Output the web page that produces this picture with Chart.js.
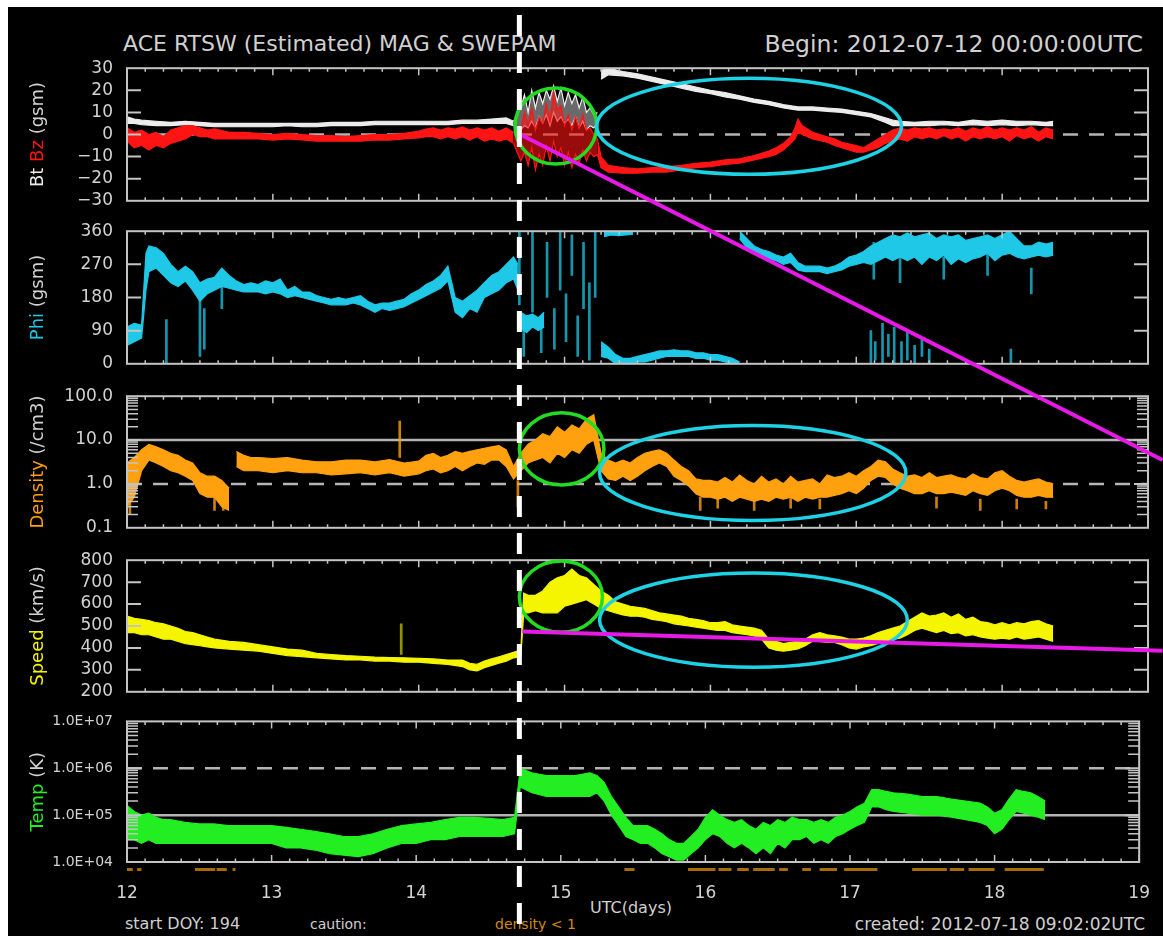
<!DOCTYPE html>
<html>
<head>
<meta charset="utf-8">
<title>ACE RTSW (Estimated) MAG &amp; SWEPAM</title>
<script src="https://cdn.jsdelivr.net/npm/chart.js@4.4.1/dist/chart.umd.min.js"></script>
<style>
  html, body { margin: 0; padding: 0; background: #ffffff; }
  #sheet { position: absolute; left: 8px; top: 7px; width: 1155px; height: 929px; background: #000000; }
  canvas { position: absolute; left: 0; }
  .txt { position: absolute; font-family: "DejaVu Sans", sans-serif; color: #d0d0d0; white-space: nowrap; line-height: 1; }
</style>
</head>
<body>
<div id="sheet"></div>
<div class="txt" style="left:123px; top:33px; font-size:22px;">ACE RTSW (Estimated) MAG &amp; SWEPAM</div>
<div class="txt" style="right:20px; top:33px; font-size:23.5px;">Begin: 2012-07-12 00:00:00UTC</div>
<div class="txt" style="left:590px; top:900px; font-size:16px;">UTC(days)</div>
<div class="txt" style="left:125px; top:916px; font-size:16px;">start DOY: 194</div>
<div class="txt" style="left:310px; top:917px; font-size:14px;">caution:</div>
<div class="txt" style="left:495px; top:917px; font-size:14px; color:#d08a10;">density &lt; 1</div>
<div class="txt" style="right:18px; top:916px; font-size:17px;">created: 2012-07-18 09:02:02UTC</div>

<script>
// ---------------------------------------------------------------
// ACE real-time solar wind, 7-day view starting 2012-07-12 (DOY 194).
// Each row: [day of July (UTC), low, high] of the plotted scatter band.
// ---------------------------------------------------------------

// |B| total field (nT): quiet wind, shock sheath, magnetic cloud
const btQuiet = [
  [12.00,5,8],[12.05,5,7],[12.10,4.5,6.5],[12.20,4,6],[12.30,4,5.5],[12.40,4.5,6],[12.50,4,5.5],
  [12.60,3.5,5],[12.70,3.5,5],[12.80,3.5,5],[12.90,3.5,5],[13.00,3.5,5],[13.10,4,5],[13.20,3.5,5],
  [13.30,3.5,5],[13.40,4,5.5],[13.50,4,5.5],[13.60,4,5.5],[13.70,4.5,6],[13.80,4.5,6],[13.90,4.5,6],
  [14.00,4.5,6],[14.10,4.5,6],[14.20,4.5,6],[14.30,5,6.5],[14.40,5,6.5],[14.50,5,7],[14.60,5,7.5],
  [14.65,4,6]
];
const btSheath = [
  [14.65,4,6],[14.70,2,12],[14.725,4,18],[14.75,3,10],[14.775,6,20],[14.80,3,12],[14.825,8,19],
  [14.85,5,14],[14.875,9,20],[14.90,4,16],[14.925,10,22],[14.95,6,15],[14.975,8,21],[15.00,5,13],
  [15.025,7,19],[15.05,4,14],[15.075,8,18],[15.10,3,12],[15.125,6,17],[15.15,2,10],[15.175,4,12],
  [15.20,3,9],[15.225,5,10]
];
const btCloud = [
  [15.25,25,29],[15.30,27,30],[15.40,26.5,28.5],[15.50,25.5,27.5],
  [15.60,24,26],[15.70,22.5,24.5],[15.80,21,23],[15.90,19.5,21.5],[16.00,18.5,20],[16.10,17,19],
  [16.20,16,17.5],[16.30,14.5,16],[16.40,13.5,15],[16.50,12,13.5],[16.60,11,12.5],[16.70,11,12.5],
  [16.80,10.5,12],[16.90,10,11.5],[17.00,9,10.5],[17.10,8,9.5],[17.20,5.5,7.5],[17.25,4,6.5],
  [17.30,4,6],[17.40,4,5.5],[17.50,4,6],[17.60,4.5,6],[17.70,4,5.5],[17.80,4.5,6.5],[17.90,4,6],
  [18.00,4.5,6.5],[18.10,4,6],[18.20,4.5,6],[18.30,4,5.5],[18.35,4,6]
];

// Bz GSM (nT)
const bzQuiet = [
  [12.00,-3,3],[12.05,-6,1],[12.10,-5,2],[12.15,-7,0],[12.20,-5,1],[12.25,-6,-1],[12.30,-4,2],
  [12.35,-3,3],[12.40,-2,4],[12.45,0,4],[12.50,-1,3],[12.55,-1,2],[12.60,-2,2.5],[12.70,-2,1],
  [12.80,-2,1],[12.90,-2,0.5],[13.00,-2.5,0],[13.10,-2,0.5],[13.20,-2.5,0],[13.30,-3,-0.5],
  [13.40,-3,-0.5],[13.50,-3,-1],[13.60,-3,-0.5],[13.70,-2.5,0],[13.80,-2.5,0],[13.90,-2,0.5],
  [14.00,-1.5,1.5],[14.05,-1,2.5],[14.10,-1,3],[14.15,-2,2],[14.20,-1,3],[14.25,-2,2.5],
  [14.30,-1,3.5],[14.35,-2.5,2],[14.40,-1,3],[14.45,-3,2],[14.50,-2,3],[14.55,-3,1.5],[14.60,-2,3],
  [14.65,-4,1]
];
const bzSheath = [
  [14.65,-4,1],[14.70,-12,2],[14.725,-8,10],[14.75,-14,4],[14.775,-6,12],[14.80,-16,2],
  [14.825,-9,8],[14.85,-14,5],[14.875,-5,14],[14.90,-12,6],[14.925,-3,19],[14.95,-10,11],
  [14.975,-6,13],[15.00,-14,4],[15.025,-8,9],[15.05,-15,2],[15.075,-9,8],[15.10,-13,3],
  [15.125,-7,9],[15.15,-12,2],[15.175,-8,3],[15.20,-10,0],[15.225,-9,-2]
];
const bzCloud = [
  [15.225,-9,-2],[15.25,-15,-10],
  [15.30,-17,-14],[15.40,-17.5,-15],[15.50,-17.5,-15.5],[15.60,-17,-15],[15.70,-17,-14.5],
  [15.80,-16,-14],[15.90,-15,-13],[16.00,-14.5,-12.5],[16.10,-13.5,-11.5],[16.20,-13,-11],
  [16.30,-11.5,-9.5],[16.40,-10,-7.5],[16.45,-9,-6],[16.50,-7,-4],[16.55,-4,-1],[16.58,-2,3],
  [16.60,1,7],[16.63,0,4],[16.70,-2,1],[16.80,-3.5,-1],[16.85,-5,-2],[16.90,-6,-3.5],
  [17.00,-8,-5],[17.05,-8,-6],[17.10,-7,-4],[17.15,-6,-2],[17.20,-4,0],[17.25,-3,2],[17.30,-2,3],
  [17.35,-3,2],[17.40,-1,3],[17.45,-2,2.5],[17.50,-1,3],[17.55,-2,2],[17.60,-0.5,2.5],[17.65,-2,2],
  [17.70,-1,3],[17.75,-3,1.5],[17.80,-1,3],[17.85,-2,2],[17.90,-1,3.5],[17.95,-2,2],[18.00,-1,3],
  [18.05,-3,2],[18.10,-0.5,3],[18.15,-2,2],[18.20,-1,3.5],[18.25,-3,1],[18.30,-1,3],[18.35,-2,2]
];

// Phi GSM (degrees), split where the angle wraps through 0/360
const phiMain = [
  [12.00,50,100],[12.05,60,110],[12.10,70,105],[12.13,200,300],[12.15,250,320],[12.20,260,315],
  [12.25,240,300],[12.30,220,270],[12.35,210,250],[12.40,225,265],[12.45,200,250],[12.50,170,220],
  [12.55,190,230],[12.60,200,235],[12.65,210,260],[12.70,205,240],[12.75,200,225],[12.80,195,215],
  [12.85,195,220],[12.90,195,215],[12.95,190,225],[13.00,195,220],[13.05,190,230],[13.10,180,200],
  [13.15,185,210],[13.20,180,195],[13.25,175,195],[13.30,170,185],[13.35,165,180],[13.40,160,175],
  [13.45,160,180],[13.50,160,175],[13.55,165,180],[13.60,160,185],[13.65,150,170],[13.70,140,160],
  [13.75,150,165],[13.80,145,165],[13.85,150,170],[13.90,155,175],[13.95,165,190],[14.00,175,200],
  [14.05,185,215],[14.10,195,225],[14.15,205,240],[14.20,225,265],[14.25,140,180],[14.30,125,170],
  [14.35,150,185],[14.40,140,200],[14.45,180,220],[14.50,190,240],[14.55,200,250],[14.60,220,270],
  [14.65,230,290],[14.68,200,270]
];
const phiCluster = [[14.70,95,140],[14.74,85,130],[14.78,100,135],[14.82,90,125],[14.86,100,140]];
const phiLow = [
  [15.25,20,60],[15.30,15,45],[15.35,0,25],[15.40,0,15],[15.45,0,15],[15.50,5,20],[15.55,5,25],
  [15.60,10,30],[15.65,15,35],[15.70,20,35],[15.75,20,38],[15.80,20,35],[15.85,20,35],[15.90,15,30],
  [15.95,15,30],[16.00,10,25],[16.05,10,25],[16.10,5,20],[16.15,0,15],[16.20,0,5]
];
const phiTop = [[15.27,345,360],[15.32,350,360],[15.37,348,360],[15.42,350,360],[15.47,352,360]];
const phiHigh = [
  [16.20,340,360],[16.25,315,340],[16.30,300,320],[16.35,290,310],[16.40,285,305],[16.45,280,295],
  [16.50,270,290],[16.55,275,300],[16.60,255,275],[16.65,250,265],[16.70,250,265],[16.75,250,265],
  [16.80,245,260],[16.85,250,265],[16.90,255,275],[16.95,265,290],[17.00,270,295],[17.05,275,305],
  [17.10,270,320],[17.15,280,330],[17.20,290,340],[17.25,280,350],[17.30,290,345],[17.35,280,355],
  [17.40,290,345],[17.45,270,350],[17.50,290,355],[17.55,280,340],[17.60,295,350],[17.65,270,345],
  [17.70,285,350],[17.75,275,335],[17.80,285,340],[17.85,290,345],[17.90,300,350],[17.95,280,340],
  [18.00,295,350],[18.05,300,360],[18.10,290,340],[18.15,285,320],[18.20,290,320],[18.25,295,330],
  [18.30,290,325],[18.35,295,330]
];
// scattered phi readings (vertical streaks)
const phiStreaks = [
  [12.27,0,120],[12.50,20,180],[12.53,40,150],[12.65,150,230],[14.69,160,360],[14.72,20,110],
  [14.78,140,360],[14.84,30,100],[14.88,180,330],[14.93,40,150],[14.97,200,360],[15.01,60,190],
  [15.05,240,350],[15.09,20,130],[15.13,150,330],[15.17,10,220],[15.21,180,360],[17.10,0,90],
  [17.13,10,60],[17.18,0,110],[17.22,20,80],[17.26,0,100],[17.31,0,60],[17.35,10,90],[17.40,0,50],
  [17.45,20,70],[17.50,0,40],[18.06,0,40],[17.12,230,330],[17.30,220,300],[17.60,230,290],
  [17.90,240,300],[18.20,190,260]
];

// Proton density (/cm3)
const densEarly = [
  [12.00,0.3,3],[12.05,0.5,4],[12.10,2,6],[12.15,3.5,8],[12.20,3,7],[12.25,2.5,6],[12.30,2,5],
  [12.35,1.8,4.5],[12.40,1.5,3.5],[12.45,1.2,3],[12.50,0.6,1.8],[12.55,0.5,1.5],[12.60,0.5,1.5],
  [12.65,0.3,1.2],[12.70,0.25,0.8]
];
const densRows = [
  [12.75,2.5,5.5],[12.80,2,4.5],[12.85,2,4],[12.90,2,4],[13.00,1.8,3.8],[13.10,2,4],[13.20,1.8,3.5],
  [13.30,1.8,3.2],[13.40,1.6,3.2],[13.50,1.7,3.5],[13.60,1.8,3.5],[13.70,1.6,3.2],[13.80,1.8,3.6],
  [13.90,1.5,3],[14.00,1.7,3.3],[14.05,2,4.5],[14.10,2.2,5],[14.15,1.8,4],[14.20,2,4.5],[14.25,2.5,5.5],
  [14.30,2,5],[14.35,2.5,5.5],[14.40,3,6],[14.45,2.8,6.5],[14.50,3.5,7],[14.55,3.5,7.5],[14.60,2.5,6],
  [14.65,1.3,2.5],[14.70,2,5],[14.75,3,8],[14.80,3.5,10],[14.85,4,14],[14.90,3,12],[14.95,5,20],
  [15.00,4,15],[15.05,6,22],[15.10,5,18],[15.15,8,30],[15.20,10,38],[15.25,2,5],[15.30,1.3,3.5],
  [15.35,1.2,3],[15.40,1.5,3.5],[15.45,1.2,3],[15.50,1.5,4],[15.55,2,5],[15.60,2.5,5.5],[15.65,3,6],
  [15.70,2.5,5],[15.75,1.5,3.5],[15.80,1.2,2.5],[15.85,0.9,2],[15.90,0.6,1.3],[15.95,0.5,1.2],
  [16.00,0.5,1.2],[16.05,0.45,1.1],[16.10,0.5,1.4],[16.15,0.4,1.1],[16.20,0.5,1.6],[16.25,0.45,1.2],
  [16.30,0.4,1.0],[16.35,0.45,1.5],[16.40,0.4,1.1],[16.45,0.5,1.3],[16.50,0.45,1.0],[16.55,0.5,1.5],
  [16.60,0.4,1.1],[16.65,0.5,1.2],[16.70,0.45,1.3],[16.75,0.5,1.0],[16.80,0.5,1.6],[16.85,0.55,1.4],
  [16.90,0.6,1.5],[16.95,0.7,1.8],[17.00,0.6,1.5],[17.05,0.8,2],[17.10,1.2,2.5],[17.15,1.5,3.5],
  [17.20,1.4,3.2],[17.25,1,2.2],[17.30,0.8,1.8],[17.35,0.7,1.5],[17.40,0.6,1.6],[17.45,0.6,1.4],
  [17.50,0.7,1.8],[17.55,0.6,1.4],[17.60,0.6,1.5],[17.65,0.65,1.6],[17.70,0.6,1.4],[17.75,0.55,1.3],
  [17.80,0.7,1.7],[17.85,0.6,1.4],[17.90,0.55,1.3],[17.95,0.7,1.8],[18.00,0.8,2],[18.05,0.7,1.5],
  [18.10,0.55,1.2],[18.15,0.5,1.1],[18.20,0.5,1.2],[18.25,0.55,1.3],[18.30,0.5,1.1],[18.35,0.5,1.0]
];
const densStreaks = [
  [12.02,0.2,2],[12.60,0.25,0.6],[12.66,0.25,0.5],[13.87,4,27],[14.68,0.3,1.2],[15.93,0.25,0.5],
  [16.05,0.28,0.45],[16.30,0.25,0.45],[16.55,0.28,0.5],[16.75,0.27,0.45],[17.55,0.28,0.5],
  [17.85,0.25,0.45],[18.10,0.27,0.45],[18.30,0.27,0.4]
];

// Bulk speed (km/s)
const speedRows = [
  [12.00,470,545],[12.05,470,535],[12.10,460,530],[12.15,460,525],[12.20,450,515],[12.25,440,510],
  [12.30,440,500],[12.35,430,490],[12.40,420,475],[12.45,415,470],[12.50,410,460],[12.55,405,450],
  [12.60,400,440],[12.70,395,430],[12.80,390,425],[12.90,385,415],[13.00,375,405],[13.10,365,395],
  [13.20,360,390],[13.30,355,375],[13.40,350,370],[13.50,345,365],[13.60,345,362],[13.70,340,358],
  [13.80,340,356],[13.90,335,355],[14.00,335,352],[14.10,330,350],[14.20,325,345],[14.30,315,345],
  [14.35,300,330],[14.40,295,325],[14.45,310,340],[14.50,320,350],[14.55,330,360],[14.60,340,370],
  [14.65,355,380],[14.70,360,390],[14.72,560,650],[14.75,560,640],[14.80,570,640],[14.85,560,660],
  [14.90,560,700],[14.95,560,720],[15.00,590,730],[15.05,600,760],[15.10,610,730],[15.15,620,720],
  [15.20,600,690],[15.25,580,660],[15.30,570,640],[15.35,560,610],[15.40,550,600],[15.45,545,590],
  [15.50,545,585],[15.55,540,580],[15.60,530,570],[15.65,525,560],[15.70,520,555],[15.75,510,550],
  [15.80,505,545],[15.85,500,535],[15.90,495,530],[15.95,490,525],[16.00,485,515],[16.05,480,515],
  [16.10,480,520],[16.15,470,505],[16.20,465,500],[16.25,460,495],[16.30,455,490],[16.35,440,480],
  [16.40,400,440],[16.45,390,430],[16.50,385,420],[16.55,390,425],[16.60,395,430],[16.65,410,440],
  [16.70,430,460],[16.75,430,470],[16.80,425,460],[16.85,425,455],[16.90,415,450],[16.95,400,440],
  [17.00,395,440],[17.05,405,445],[17.10,410,455],[17.15,420,470],[17.20,430,480],[17.25,440,490],
  [17.30,445,500],[17.35,460,520],[17.40,480,540],[17.45,490,560],[17.50,480,545],[17.55,470,550],
  [17.60,480,560],[17.65,465,540],[17.70,470,555],[17.75,455,530],[17.80,460,540],[17.85,450,520],
  [17.90,445,515],[17.95,440,505],[18.00,445,515],[18.05,440,505],[18.10,450,515],[18.15,440,510],
  [18.20,445,520],[18.25,450,525],[18.30,440,510],[18.35,430,500]
];
const speedStreaks = [[13.88,370,510]];

// Ion temperature (K)
const tempRows = [
  [12.00,3e4,1.6e5],[12.05,3e4,1.2e5],[12.10,2.5e4,1e5],[12.15,3e4,1.1e5],[12.20,2.5e4,9e4],
  [12.25,2.5e4,8e4],[12.30,2.5e4,8e4],[12.40,2.5e4,7e4],[12.50,2.5e4,6.5e4],[12.60,2.5e4,6.5e4],
  [12.70,2.5e4,6e4],[12.80,2.5e4,6e4],[12.90,2.5e4,6e4],[13.00,2.5e4,6e4],[13.10,2e4,5.5e4],
  [13.20,2e4,5e4],[13.30,1.8e4,4.5e4],[13.40,1.5e4,4e4],[13.50,1.4e4,3.5e4],[13.60,1.3e4,3.5e4],
  [13.70,1.5e4,4e4],[13.80,2e4,5e4],[13.90,2.5e4,6e4],[14.00,2.5e4,6.5e4],[14.10,3e4,7e4],
  [14.20,3e4,8e4],[14.30,3.5e4,9e4],[14.40,3.5e4,9e4],[14.50,3.5e4,8.5e4],[14.60,3.5e4,8e4],
  [14.68,4e4,9e4],[14.72,4e5,1e6],[14.80,3e5,8e5],[14.90,2.5e5,7e5],[15.00,2.5e5,7e5],
  [15.10,2.5e5,7e5],[15.20,2.5e5,8e5],[15.25,3e5,7e5],[15.30,2e5,5e5],[15.35,1e5,2.5e5],
  [15.40,6e4,1.5e5],[15.45,3.5e4,9e4],[15.50,3e4,6e4],[15.55,2.5e4,6e4],[15.60,2.5e4,6e4],
  [15.65,2e4,5e4],[15.70,1.5e4,4e4],[15.75,1.3e4,3e4],[15.80,1.1e4,2.5e4],[15.85,1.1e4,2.5e4],
  [15.90,1.5e4,3.5e4],[15.95,2e4,5e4],[16.00,3e4,9e4],[16.05,4e4,1.3e5],[16.10,3.5e4,1e5],
  [16.15,2.5e4,8e4],[16.20,2e4,7e4],[16.25,2.5e4,8e4],[16.30,2e4,6e4],[16.35,1.5e4,5e4],
  [16.40,2e4,7e4],[16.45,1.5e4,6e4],[16.50,2.5e4,8e4],[16.55,2e4,7e4],[16.60,3e4,9e4],
  [16.65,3e4,8e4],[16.70,3.5e4,8e4],[16.75,2.5e4,7e4],[16.80,3e4,8e4],[16.85,2.5e4,7e4],
  [16.90,3.5e4,9e4],[16.95,4e4,1e5],[17.00,5e4,1.2e5],[17.05,6e4,1.5e5],[17.10,7e4,1.8e5],
  [17.15,1.5e5,3.5e5],[17.20,1.5e5,3.5e5],[17.25,1.3e5,3.2e5],[17.30,1.2e5,3e5],[17.40,1.1e5,2.8e5],
  [17.50,1e5,2.5e5],[17.60,1e5,2.5e5],[17.70,9e4,2.2e5],[17.80,8e4,2e5],[17.90,7e4,1.8e5],
  [17.95,6e4,1.5e5],[18.00,4e4,1.1e5],[18.05,5e4,1.3e5],[18.10,8e4,2.2e5],[18.15,1.2e5,3.5e5],
  [18.20,1.1e5,3.2e5],[18.25,1e5,3e5],[18.30,9e4,2.5e5],[18.35,8e4,2e5]
];

// intervals flagged "density < 1"
const lowDensity = [
  [12.00,12.04],[12.07,12.10],[12.47,12.61],[12.62,12.69],[12.73,12.75],[15.44,15.51],
  [15.88,16.07],[16.09,16.18],[16.22,16.30],[16.33,16.48],[16.51,16.57],[16.67,16.73],
  [16.79,16.91],[16.96,17.19],[17.43,17.67],[17.69,17.79],[17.82,18.00],[18.07,18.34]
];

// x-axis tick labels (days) and y tick values per panel
const dayTicks = [12, 13, 14, 15, 16, 17, 18, 19];
const bzTicks = [-30, -20, -10, 0, 10, 20, 30];
const phiTicks = [0, 90, 180, 270, 360];
const speedTicks = [200, 300, 400, 500, 600, 700, 800];

// ---------------------------------------------------------------
// Layout and styling
// ---------------------------------------------------------------
const PAGE_W = 1163, PAGE_H = 936;
const AXIS_W = 127;          // left edge of each plotting frame
const RIGHT_PAD = 15;        // page width minus right frame edge
const PAD = 10;
const XAXIS_H = 40;
const FONT = '"DejaVu Sans", sans-serif';
const GRAY = '#d2d2d2';
const FRAME = '#c4c4c4';
const REF = '#b4b4b4';
const C_BT = '#ececec', C_BZ = '#ff1414', C_PHI = '#1ec8e6', C_DEN = '#ffa00f',
      C_SPD = '#f5f500', C_TMP = '#22ee22';

const panels = [
  { top: 62,  bottom: 207 },
  { top: 225, bottom: 370 },
  { top: 390, bottom: 534 },
  { top: 554, bottom: 698 },
  { top: 717, bottom: 862 }
];

function band(rows, color, fillColor) {
  return [
    { type: 'line', data: rows.map(r => ({ x: r[0], y: r[1] })), borderColor: color, borderWidth: 1.2,
      pointRadius: 0, fill: false, tension: 0 },
    { type: 'line', data: rows.map(r => ({ x: r[0], y: r[2] })), borderColor: color, borderWidth: 1.2,
      pointRadius: 0, fill: '-1', backgroundColor: fillColor || color, tension: 0 }
  ];
}
function streaks(rows, color) {
  return { type: 'bar', data: rows.map(r => ({ x: r[0], y: [r[1], r[2]] })), backgroundColor: color,
           barThickness: 2, grouped: false };
}
function logMinor(lo, hi) {
  const out = [];
  for (let e = Math.round(Math.log10(lo)); e < Math.round(Math.log10(hi)); e++) {
    for (let m = 2; m <= 9; m++) out.push(m * Math.pow(10, e));
  }
  return out;
}
const signed = v => (v < 0 ? '\u2212' + Math.abs(v) : String(v));
const isDecade = v => Math.abs(Math.log10(v) - Math.round(Math.log10(v))) < 1e-6;

const panelFrame = {
  id: 'panelFrame',
  beforeDatasetsDraw(chart, args, o) {
    const { ctx, chartArea: a } = chart;
    const ys = chart.scales.y;
    ctx.save();
    (o.refs || []).forEach(r => {
      const y = ys.getPixelForValue(r.v);
      ctx.strokeStyle = REF; ctx.lineWidth = 2.5;
      ctx.setLineDash(r.dash ? [15, 11] : []);
      ctx.beginPath(); ctx.moveTo(a.left, y); ctx.lineTo(a.right, y); ctx.stroke();
    });
    ctx.restore();
  },
  afterDatasetsDraw(chart, args, o) {
    const { ctx, chartArea: a } = chart;
    const xs = chart.scales.x, ys = chart.scales.y;
    ctx.save();
    ctx.setLineDash([]);
    ctx.strokeStyle = FRAME; ctx.lineWidth = 2;
    ctx.strokeRect(a.left, a.top, a.right - a.left, a.bottom - a.top);
    // 3-hourly minor and daily major ticks along top and bottom edges
    ctx.lineWidth = 1.5;
    for (let k = 0; k <= 56; k++) {
      const px = xs.getPixelForValue(12 + k / 8);
      const len = k % 8 === 0 ? 7 : 3.5;
      ctx.beginPath();
      ctx.moveTo(px, a.top); ctx.lineTo(px, a.top + len);
      ctx.moveTo(px, a.bottom); ctx.lineTo(px, a.bottom - len);
      ctx.stroke();
    }
    // inward y ticks on both sides
    const yTick = (v, len) => {
      const py = ys.getPixelForValue(v);
      ctx.beginPath();
      ctx.moveTo(a.left, py); ctx.lineTo(a.left + len, py);
      ctx.moveTo(a.right, py); ctx.lineTo(a.right - len, py);
      ctx.stroke();
    };
    ctx.lineWidth = 2;
    (o.major || []).forEach(v => yTick(v, 14));
    ctx.lineWidth = 1.5;
    (o.minor || []).forEach(v => yTick(v, 11));
    // low-density flags under the frame
    if (o.flags) {
      ctx.fillStyle = '#a86c08';
      o.flags.forEach(f => {
        const x0 = xs.getPixelForValue(f[0]), x1 = xs.getPixelForValue(f[1]);
        ctx.fillRect(x0, a.bottom + 6, Math.max(2, x1 - x0), 3);
      });
    }
    // rotated, multi-coloured axis title
    if (o.title) {
      ctx.font = '18px ' + FONT;
      ctx.textBaseline = 'middle';
      const total = o.title.reduce((s, p) => s + ctx.measureText(p[0]).width, 0);
      ctx.translate(38, (a.top + a.bottom) / 2);
      ctx.rotate(-Math.PI / 2);
      let x = -total / 2;
      o.title.forEach(p => {
        ctx.fillStyle = p[1];
        ctx.fillText(p[0], x, 0);
        x += ctx.measureText(p[0]).width;
      });
    }
    ctx.restore();
  }
};

const panelDefs = [
  {
    y: { type: 'linear', min: -30, max: 30, ticks: { stepSize: 10, callback: signed } },
    datasets: [...band(bzQuiet, C_BZ), ...band(bzSheath, C_BZ, 'rgba(255,20,20,0.6)'), ...band(bzCloud, C_BZ),
               ...band(btQuiet, C_BT), ...band(btSheath, C_BT, 'rgba(236,236,236,0.45)'), ...band(btCloud, C_BT)],
    deco: { refs: [{ v: 0, dash: true }], major: bzTicks.slice(1, -1),
            title: [['Bt', C_BT], [' Bz', C_BZ], [' (gsm)', GRAY]] }
  },
  {
    y: { type: 'linear', min: 0, max: 360, ticks: { stepSize: 90 } },
    datasets: [...band(phiMain, C_PHI), ...band(phiCluster, C_PHI), ...band(phiLow, C_PHI),
               ...band(phiTop, C_PHI), ...band(phiHigh, C_PHI), streaks(phiStreaks, 'rgba(30,200,230,0.75)')],
    deco: { major: phiTicks.slice(1, -1), title: [['Phi', C_PHI], [' (gsm)', GRAY]] }
  },
  {
    y: { type: 'logarithmic', min: 0.1, max: 100,
         ticks: { autoSkip: false, callback: v => (isDecade(v) ? Number(v).toFixed(1) : '') } },
    datasets: [...band(densEarly, C_DEN), ...band(densRows, C_DEN), streaks(densStreaks, 'rgba(255,160,15,0.8)')],
    deco: { refs: [{ v: 10, dash: false }, { v: 1, dash: true }], major: [1, 10],
            minor: logMinor(0.1, 100), title: [['Density', C_DEN], [' (/cm3)', GRAY]] }
  },
  {
    y: { type: 'linear', min: 200, max: 800, ticks: { stepSize: 100 } },
    datasets: [...band(speedRows, C_SPD), streaks(speedStreaks, 'rgba(245,245,0,0.6)')],
    deco: { major: speedTicks.slice(1, -1), title: [['Speed', C_SPD], [' (km/s)', GRAY]] }
  },
  {
    y: { type: 'logarithmic', min: 1e4, max: 1e7,
         ticks: { autoSkip: false, font: { size: 14, family: FONT },
                  callback: v => (isDecade(v) ? '1.0E+' + String(Math.round(Math.log10(v))).padStart(2, '0') : '') } },
    datasets: [...band(tempRows, C_TMP)],
    deco: { refs: [{ v: 1e6, dash: true }, { v: 1e5, dash: false }], major: [1e5, 1e6],
            minor: logMinor(1e4, 1e7), title: [['Temp', C_TMP], [' (K)', GRAY]], flags: lowDensity }
  }
];

const charts = [], canvasTops = [];
panelDefs.forEach((def, i) => {
  const p = panels[i];
  const last = i === panelDefs.length - 1;
  const top = p.top - PAD;
  const height = (p.bottom - p.top) + PAD + (last ? XAXIS_H : PAD);
  const cv = document.createElement('canvas');
  cv.width = PAGE_W; cv.height = height;
  cv.style.top = top + 'px'; cv.style.width = PAGE_W + 'px'; cv.style.height = height + 'px';
  document.body.appendChild(cv);
  canvasTops.push(top);

  const xAxis = {
    type: 'linear', min: dayTicks[0], max: dayTicks[dayTicks.length - 1],
    offset: false, display: last,
    grid: { display: false, offset: false }, border: { display: false },
    afterBuildTicks: s => { s.ticks = dayTicks.map(v => ({ value: v })); },
    ticks: { color: GRAY, padding: 13, maxRotation: 0, autoSkip: false,
             font: { size: 17, family: FONT }, callback: v => String(v) }
  };
  if (last) xAxis.afterFit = s => { s.height = XAXIS_H; };

  const yTicks = Object.assign({ color: GRAY, padding: 6, font: { size: 17, family: FONT } }, def.y.ticks);
  const chart = new Chart(cv.getContext('2d'), {
    type: 'line',
    data: { datasets: def.datasets },
    plugins: [panelFrame],
    options: {
      responsive: false, animation: false, devicePixelRatio: 1, events: [],
      layout: { padding: { left: 0, right: RIGHT_PAD, top: PAD, bottom: last ? 0 : PAD } },
      plugins: { legend: { display: false }, tooltip: { enabled: false }, panelFrame: def.deco },
      scales: {
        x: xAxis,
        y: {
          type: def.y.type, min: def.y.min, max: def.y.max,
          grid: { display: false }, border: { display: false },
          afterFit: s => { s.width = AXIS_W; },
          ticks: yTicks
        }
      }
    }
  });
  charts.push(chart);
});

// ---------------------------------------------------------------
// Event annotations: shock arrival marker, sheath / ejecta rings, trend lines
// ---------------------------------------------------------------
const shockDay = 14.69;
const sheathRings = [
  { panel: 0, d0: 14.66, d1: 15.22, v0: 21,   v1: -13.4 },
  { panel: 2, d0: 14.69, d1: 15.27, v0: 42,   v1: 0.95 },
  { panel: 3, d0: 14.69, d1: 15.26, v0: 796,  v1: 471 }
];
const ejectaRings = [
  { panel: 0, d0: 15.22, d1: 17.31, v0: 25.4, v1: -18 },
  { panel: 2, d0: 15.24, d1: 17.34, v0: 21.5, v1: 0.147 },
  { panel: 3, d0: 15.24, d1: 17.35, v0: 742,  v1: 312 }
];
const trendLines = [
  { from: { panel: 0, day: 14.69, v: 0.2 }, to: { panel: 2, day: 19.10, v: 3.5 } },
  { from: { panel: 3, day: 14.71, v: 475 }, to: { panel: 3, day: 19.10, v: 387 } }
];

const ov = document.createElement('canvas');
ov.width = PAGE_W; ov.height = PAGE_H;
ov.style.top = '0px'; ov.style.width = PAGE_W + 'px'; ov.style.height = PAGE_H + 'px';
ov.style.zIndex = 5; ov.style.pointerEvents = 'none';
document.body.appendChild(ov);
const octx = ov.getContext('2d');

function pagePoint(i, day, v) {
  const c = charts[i];
  return { x: c.scales.x.getPixelForValue(day), y: canvasTops[i] + c.scales.y.getPixelForValue(v) };
}
function ring(r, color) {
  const p0 = pagePoint(r.panel, r.d0, r.v0), p1 = pagePoint(r.panel, r.d1, r.v1);
  octx.strokeStyle = color; octx.lineWidth = 3.5;
  octx.beginPath();
  octx.ellipse((p0.x + p1.x) / 2, (p0.y + p1.y) / 2, Math.abs(p1.x - p0.x) / 2, Math.abs(p1.y - p0.y) / 2, 0, 0, Math.PI * 2);
  octx.stroke();
}
sheathRings.forEach(r => ring(r, '#22dc22'));
ejectaRings.forEach(r => ring(r, '#1ed2e6'));
trendLines.forEach(t => {
  const a = pagePoint(t.from.panel, t.from.day, t.from.v), b = pagePoint(t.to.panel, t.to.day, t.to.v);
  octx.strokeStyle = '#e619e6'; octx.lineWidth = 4;
  octx.beginPath(); octx.moveTo(a.x, a.y); octx.lineTo(b.x, b.y); octx.stroke();
});
const sx = charts[0].scales.x.getPixelForValue(shockDay);
octx.strokeStyle = '#ffffff'; octx.lineWidth = 5; octx.setLineDash([21, 16]);
octx.beginPath(); octx.moveTo(sx, 15); octx.lineTo(sx, 932); octx.stroke();
</script>
</body>
</html>
